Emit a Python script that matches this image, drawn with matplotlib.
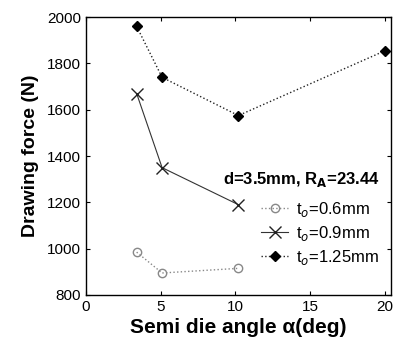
import matplotlib
matplotlib.use("Agg")
import matplotlib.pyplot as plt

plt.rcParams['font.family'] = ['Liberation Sans', 'DejaVu Sans']

angle_06 = [3.4, 5.1, 10.2]
force_06 = [985, 895, 915]
angle_09 = [3.4, 5.1, 10.2]
force_09 = [1670, 1350, 1190]
angle_125 = [3.4, 5.1, 10.2, 20.0]
force_125 = [1960, 1740, 1575, 1855]

fig = plt.figure(figsize=(3.99, 3.43), dpi=100)
ax = fig.add_axes([0.215, 0.14, 0.765, 0.81])

ax.plot(angle_06, force_06, linestyle=':', color='#888888', lw=1,
        marker='o', markersize=6, markerfacecolor='none', markeredgecolor='#888888',
        label='t$_o$=0.6mm')
ax.plot(angle_09, force_09, linestyle='-', color='#333333', lw=0.8,
        marker='x', markersize=8, markeredgecolor='#222222',
        label='t$_o$=0.9mm')
ax.plot(angle_125, force_125, linestyle=':', color='#222222', lw=1,
        marker='D', markersize=5, markerfacecolor='black', markeredgecolor='black',
        label='t$_o$=1.25mm')

ax.set_xlim(0, 20.4)
ax.set_ylim(800, 2000)
ax.set_xticks([0, 5, 10, 15, 20])
ax.set_yticks([800, 1000, 1200, 1400, 1600, 1800, 2000])
ax.tick_params(direction='in', length=3, labelsize=11, top=True, right=True)
for s in ax.spines.values():
    s.set_linewidth(1)

ax.set_xlabel('Semi die angle α(deg)', fontsize=15, fontweight='bold', labelpad=3)
ax.set_ylabel('Drawing force (N)', fontsize=14, fontweight='bold', labelpad=6)

leg = ax.legend(loc='lower right', bbox_to_anchor=(1.0, 0.06), frameon=False,
                title='d=3.5mm, R$_\\mathbf{A}$=23.44', fontsize=12,
                handlelength=1.6, handletextpad=0.5, labelspacing=0.3,
                borderaxespad=0.3, alignment='right')
leg.get_title().set_fontweight('bold')
leg.get_title().set_fontsize(12)
leg._legend_box.sep = 8

fig.savefig('out.png', dpi=100)
